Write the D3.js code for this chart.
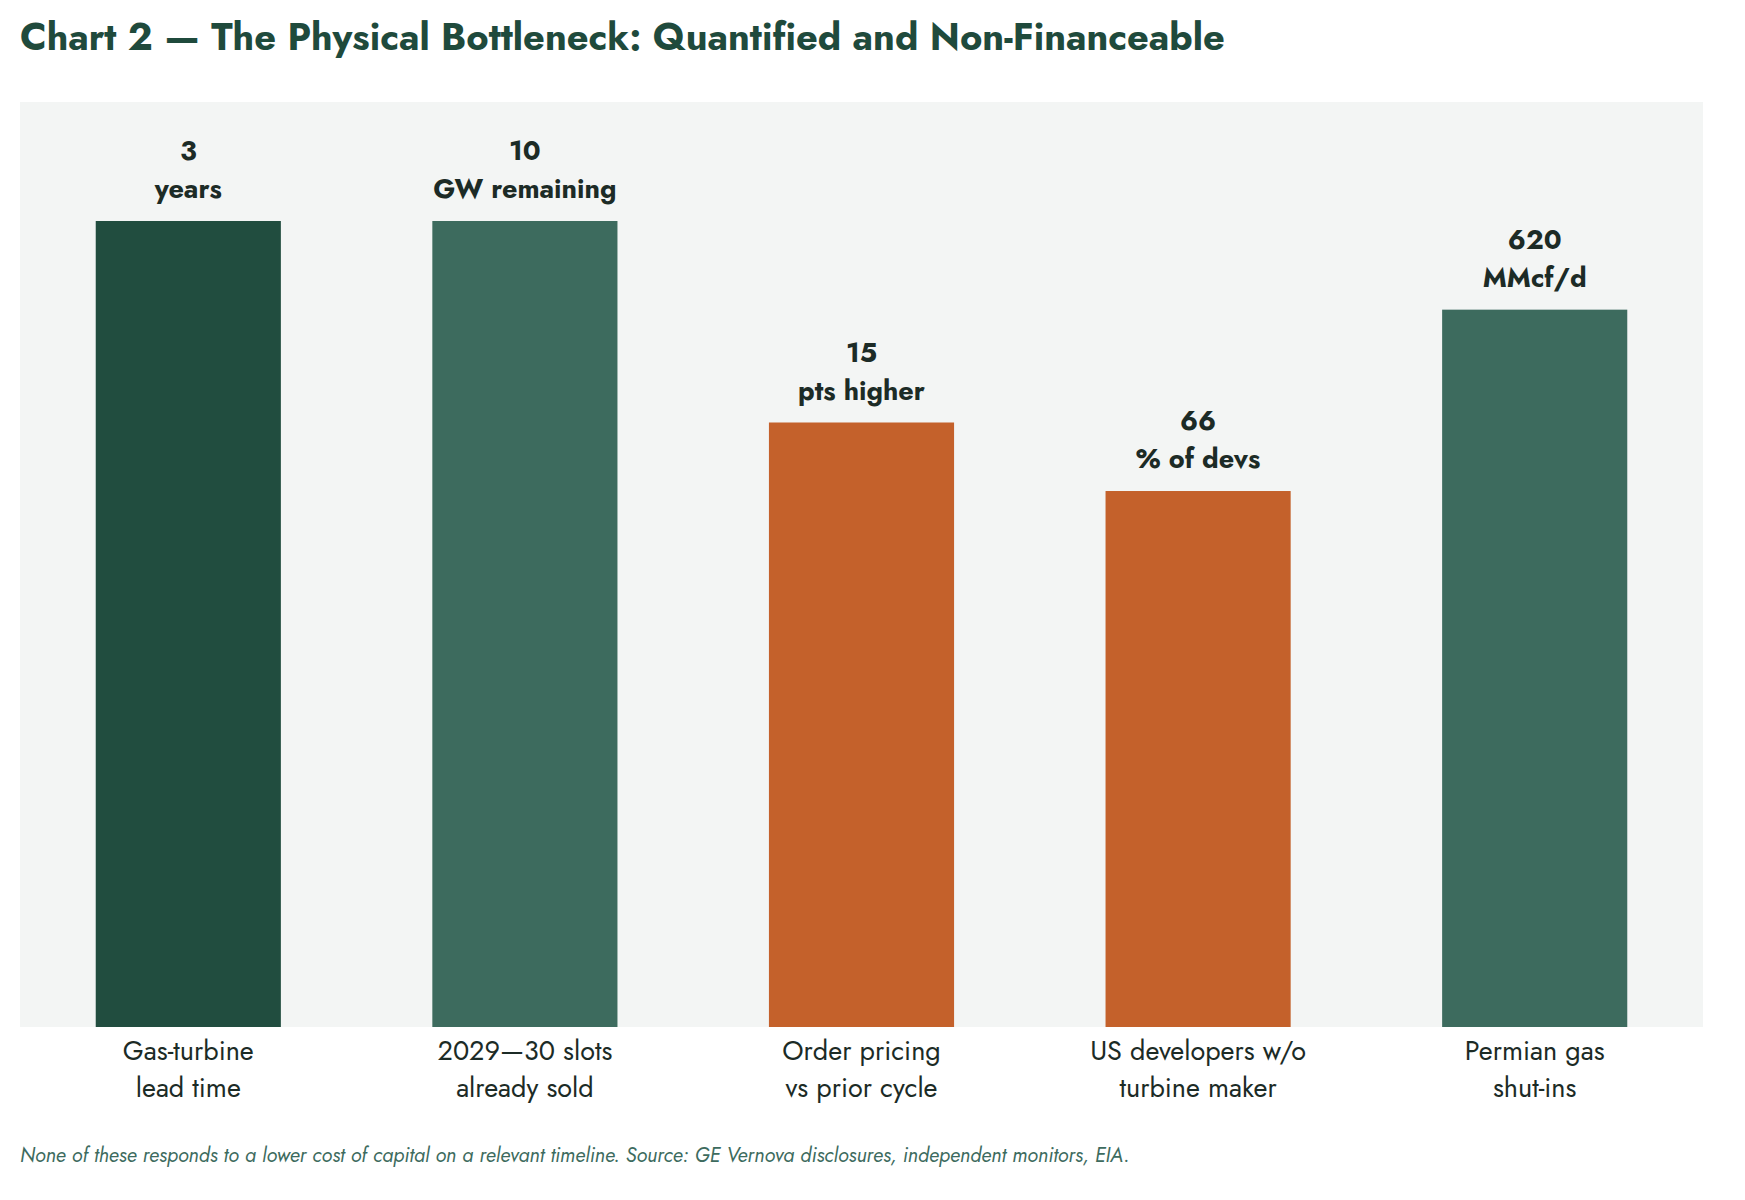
<!DOCTYPE html>
<html><head><meta charset="utf-8">
<script src="https://cdn.jsdelivr.net/npm/d3@7"></script>
<style>body{margin:0;background:#fff}</style>
</head><body>
<svg width="1745" height="1200"></svg>
<script>
var categories = [['Gas-turbine', 'lead time'], ['2029\u201430 slots', 'already sold'], ['Order pricing', 'vs prior cycle'], ['US developers w/o', 'turbine maker'], ['Permian gas', 'shut-ins']]
var scores = [100, 100, 75, 66.5, 89]
var values = ['3', '10', '15', '66', '620']
var units = ['years', 'GW remaining', 'pts higher', '% of devs', 'MMcf/d']
var colors = ['#214d3f', '#3d6b5e', '#c4612b', '#c4612b', '#3d6b5e']

var font = 'Jost, "Noto Sans", "DejaVu Sans", sans-serif'
var svg = d3.select('svg')

svg.append('text').attr('x', 20).attr('y', 50)
  .attr('font-family', font).attr('font-weight', 700).attr('font-size', 38)
  .attr('fill', '#1f4a3c')
  .text('Chart 2 \u2014 The Physical Bottleneck: Quantified and Non-Financeable')

svg.append('rect').attr('x', 20).attr('y', 102).attr('width', 1683).attr('height', 925).attr('fill', '#f3f5f4')

var x = d3.scaleBand().domain(d3.range(5)).range([20, 1703]).paddingInner(0.45).paddingOuter(0.225)
var y = d3.scaleLinear().domain([0, 100]).range([1027, 221])

svg.selectAll('rect.bar').data(scores).enter().append('rect')
  .attr('class', 'bar')
  .attr('x', function(d, i) { return x(i) })
  .attr('width', x.bandwidth())
  .attr('y', function(d) { return y(d) })
  .attr('height', function(d) { return y(0) - y(d) })
  .attr('fill', function(d, i) { return colors[i] })

var lab = svg.selectAll('text.val').data(scores).enter().append('text')
  .attr('class', 'val')
  .attr('text-anchor', 'middle')
  .attr('font-family', font).attr('font-weight', 700).attr('font-size', 27)
  .attr('fill', '#1c2b26')
lab.append('tspan').attr('x', function(d, i) { return x(i) + x.bandwidth() / 2 })
  .attr('y', function(d) { return y(d) - 61 }).text(function(d, i) { return values[i] })
lab.append('tspan').attr('x', function(d, i) { return x(i) + x.bandwidth() / 2 })
  .attr('y', function(d) { return y(d) - 23 }).text(function(d, i) { return units[i] })

var cat = svg.selectAll('text.cat').data(categories).enter().append('text')
  .attr('class', 'cat')
  .attr('text-anchor', 'middle')
  .attr('font-family', font).attr('font-size', 27)
  .attr('fill', '#1c2b26')
cat.append('tspan').attr('x', function(d, i) { return x(i) + x.bandwidth() / 2 }).attr('y', 1060).text(function(d) { return d[0] })
cat.append('tspan').attr('x', function(d, i) { return x(i) + x.bandwidth() / 2 }).attr('y', 1097).text(function(d) { return d[1] })

svg.append('text').attr('x', 20).attr('y', 1162)
  .attr('font-family', font).attr('font-style', 'italic').attr('font-size', 20)
  .attr('fill', '#3d6b5e')
  .text('None of these responds to a lower cost of capital on a relevant timeline. Source: GE Vernova disclosures, independent monitors, EIA.')
</script>
</body></html>
